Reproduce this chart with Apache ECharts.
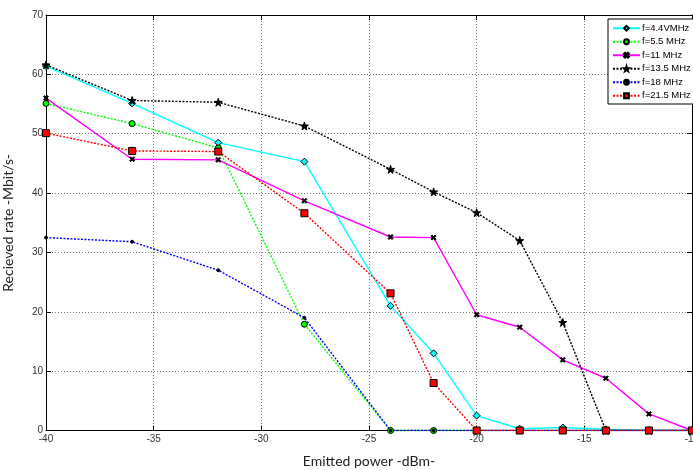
<!DOCTYPE html>
<html>
<head>
<meta charset="utf-8">
<script src="https://cdn.jsdelivr.net/npm/echarts@6/dist/echarts.min.js"></script>
<style>
  html, body { margin: 0; padding: 0; background: #fff; }
  #chart { width: 693px; height: 470px; }
</style>
</head>
<body>
<div id="chart"></div>
<script>
// Emitted power (dBm) at each measurement step
const power = [-40, -36, -32, -28, -24, -22, -20, -18, -16, -14, -12, -10];

// Received rate (Mbit/s) per carrier frequency
const rate4_4 = [61.4, 55.1, 48.5, 45.3, 21.0, 13.0, 2.5, 0.3, 0.5, 0.2, 0, 0];
const rate5_5 = [55.1, 51.7, 47.6, 17.9, 0, 0, 0, 0, 0, 0, 0, 0];
const rate11 = [56.0, 45.7, 45.6, 38.7, 32.6, 32.5, 19.5, 17.4, 11.9, 8.8, 2.8, 0];
const rate13_5 = [61.6, 55.6, 55.3, 51.3, 44.0, 40.2, 36.7, 32.0, 18.2, 0, 0, 0];
const rate18 = [32.5, 31.8, 27.0, 19.0, 0, 0, 0, 0, 0, 0, 0, 0];
const rate21_5 = [50.1, 47.1, 47.0, 36.6, 23.1, 8.0, 0, 0, 0, 0, 0, 0];

const seriesNames = ['f=4.4VMHz', 'f=5.5 MHz', 'f=11 MHz', 'f=13.5 MHz', 'f=18 MHz', 'f=21.5 MHz'];

// Axis ranges and tick spacing
const xMin = -40, xMax = -10, xStep = 5;
const yMin = 0, yMax = 70, yStep = 10;

const STAR = 'path://M50,0 L61,35 L98,35 L68,57 L79,91 L50,70 L21,91 L32,57 L2,35 L39,35 Z';
const CROSS = 'path://M0,2 L2,0 L5,3 L8,0 L10,2 L7,5 L10,8 L8,10 L5,7 L2,10 L0,8 L3,5 Z';

function pairs(vals) {
  return power.map((p, i) => [p, vals[i]]);
}

const tickFont = { fontFamily: 'Liberation Sans Narrow, Liberation Sans, Arial, sans-serif', fontSize: 10, color: '#333' };

function makeSeries(name, vals, color, lineType, symbol, size, fill, border) {
  return {
    name: name,
    type: 'line',
    data: pairs(vals),
    xAxisIndex: 0,
    yAxisIndex: 0,
    symbol: symbol,
    symbolSize: size,
    showAllSymbol: true,
    animation: false,
    lineStyle: { color: color, width: 1.4, type: lineType },
    itemStyle: { color: fill, borderColor: border, borderWidth: 1 }
  };
}

const chart = echarts.init(document.getElementById('chart'), null, { renderer: 'canvas' });

chart.setOption({
  backgroundColor: '#fff',
  animation: false,
  grid: { left: 46, right: 1, top: 15, bottom: 39.5, containLabel: false, outerBoundsMode: 'none' },
  legend: {
    orient: 'vertical',
    left: 608,
    top: 19,
    padding: [4, 4, 3, 4],
    itemGap: 3,
    itemWidth: 27,
    itemHeight: 6,
    backgroundColor: '#fff',
    borderColor: '#000',
    borderWidth: 1,
    textStyle: { fontFamily: 'Liberation Sans, Arial, sans-serif', fontSize: 9.5, lineHeight: 10.5, color: '#000', padding: [0, 0, 0, -3] },
    data: seriesNames
  },
  xAxis: [
    {
      type: 'value', min: xMin, max: xMax, interval: xStep,
      name: 'Emitted power -dBm-', nameLocation: 'middle', nameGap: 24,
      nameTextStyle: { fontFamily: 'Lato, Open Sans, sans-serif', fontSize: 14, color: '#222' },
      axisLine: { show: true, onZero: false, lineStyle: { color: '#000', width: 1 } },
      axisTick: { show: true, inside: true, length: 5, lineStyle: { color: '#000' } },
      axisLabel: Object.assign({ margin: 4 }, tickFont),
      splitLine: { show: true, lineStyle: { color: '#777', width: 1, type: [1, 2] } }
    },
    {
      type: 'value', min: xMin, max: xMax, interval: xStep, position: 'top',
      axisLine: { show: true, onZero: false, lineStyle: { color: '#000', width: 1 } },
      axisTick: { show: true, inside: true, length: 5, lineStyle: { color: '#000' } },
      axisLabel: { show: false },
      splitLine: { show: false }
    }
  ],
  yAxis: [
    {
      type: 'value', min: yMin, max: yMax, interval: yStep,
      name: 'Recieved rate -Mbit/s-', nameLocation: 'middle', nameGap: 31,
      nameTextStyle: { fontFamily: 'Lato, Open Sans, sans-serif', fontSize: 14, color: '#222' },
      axisLine: { show: true, onZero: false, lineStyle: { color: '#000', width: 1 } },
      axisTick: { show: true, inside: true, length: 5, lineStyle: { color: '#000' } },
      axisLabel: Object.assign({ margin: 3 }, tickFont),
      splitLine: { show: true, lineStyle: { color: '#777', width: 1, type: [1, 2] } }
    },
    {
      type: 'value', min: yMin, max: yMax, interval: yStep, position: 'right',
      axisLine: { show: true, onZero: false, lineStyle: { color: '#000', width: 1 } },
      axisTick: { show: true, inside: true, length: 5, lineStyle: { color: '#000' } },
      axisLabel: { show: false },
      splitLine: { show: false }
    }
  ],
  series: [
    makeSeries(seriesNames[0], rate4_4, '#00ffff', 'solid', 'diamond', 7, '#00ffff', '#000'),
    makeSeries(seriesNames[1], rate5_5, '#00ff00', [2, 1.5], 'circle', 6, '#00ff00', '#000'),
    makeSeries(seriesNames[2], rate11, '#ff00ff', 'solid', CROSS, 5, '#000', '#000'),
    makeSeries(seriesNames[3], rate13_5, '#000000', [2, 1.5], STAR, 8, '#000', '#000'),
    makeSeries(seriesNames[4], rate18, '#0000ff', [2, 1.5], 'circle', 3, '#000', '#000'),
    makeSeries(seriesNames[5], rate21_5, '#ff0000', [2, 1.5], 'rect', 7, '#ff0000', '#000')
  ]
});
</script>
</body>
</html>
